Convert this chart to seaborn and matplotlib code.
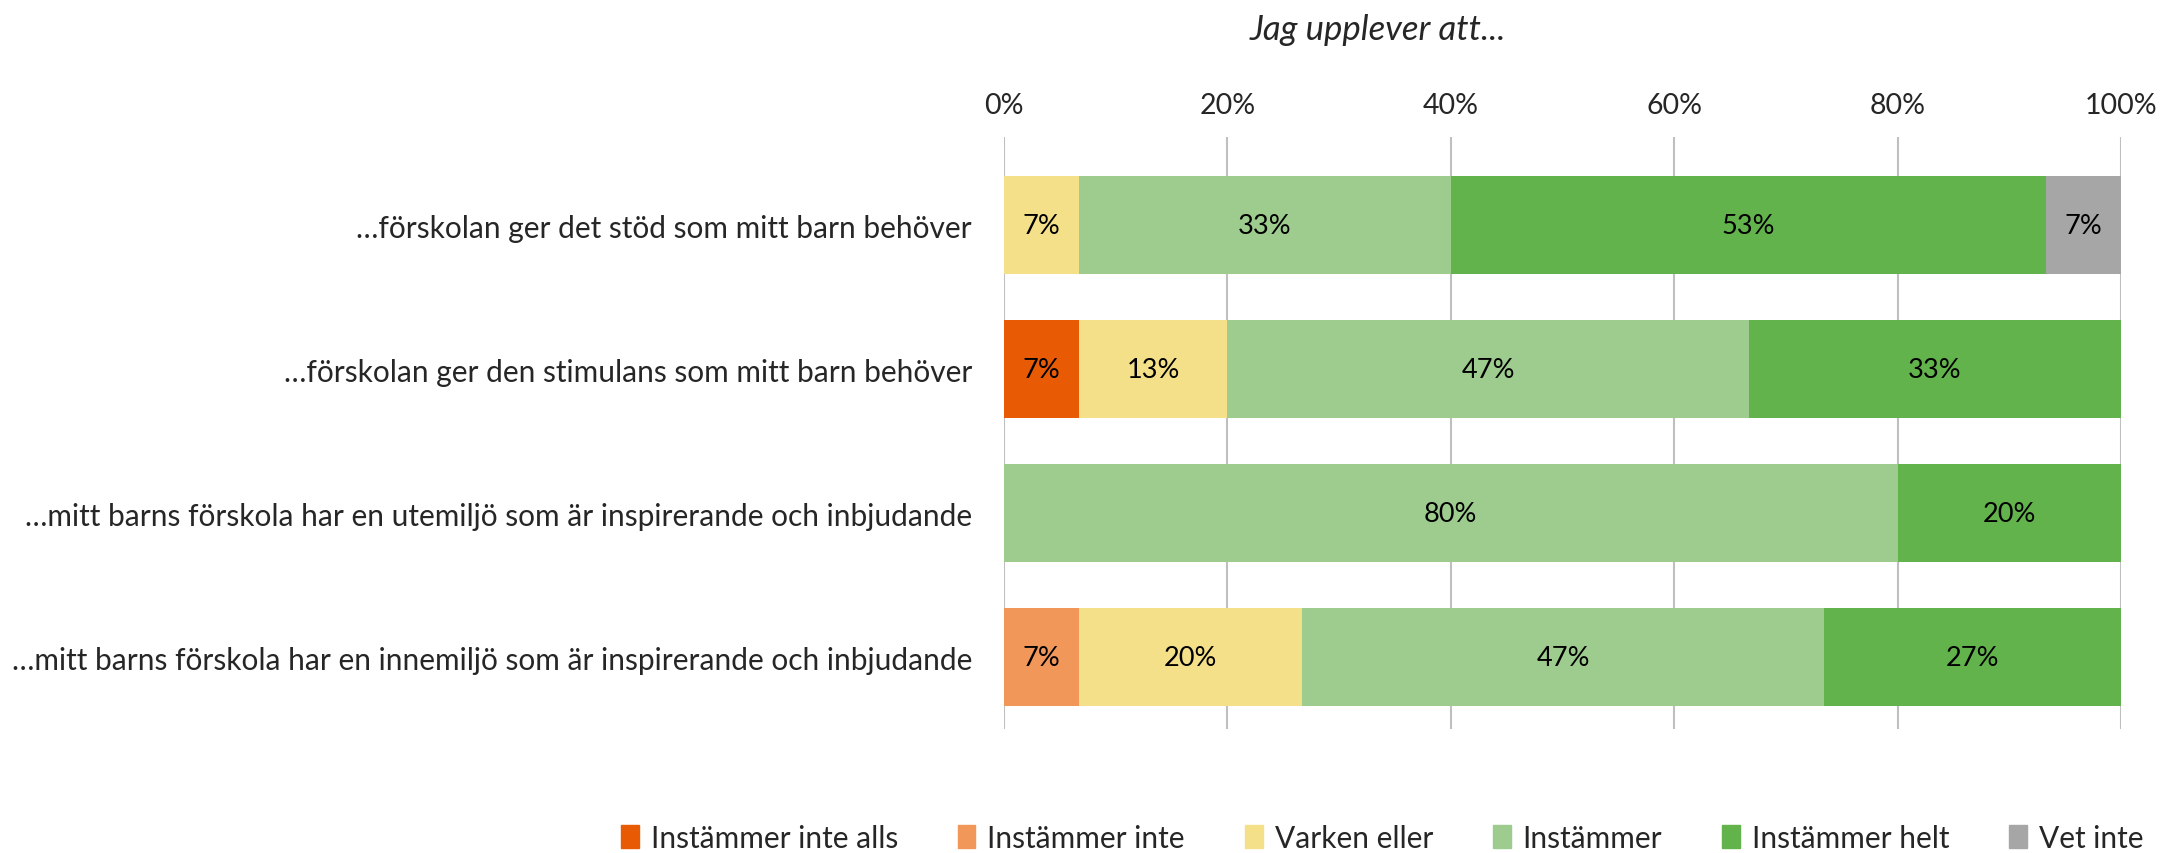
import matplotlib
matplotlib.use("Agg")
import matplotlib.pyplot as plt
import seaborn as sns
import numpy as np
import pandas as pd

statements = [
    "…förskolan ger det stöd som mitt barn behöver",
    "…förskolan ger den stimulans som mitt barn behöver",
    "…mitt barns förskola har en utemiljö som är inspirerande och inbjudande",
    "…mitt barns förskola har en innemiljö som är inspirerande och inbjudande",
]
answers = ["Instämmer inte alls", "Instämmer inte", "Varken eller",
           "Instämmer", "Instämmer helt", "Vet inte"]

instammer_inte_alls = [0, 6.7, 0, 0]
instammer_inte = [0, 0, 0, 6.7]
varken_eller = [6.7, 13.3, 0, 20.0]
instammer = [33.3, 46.7, 80.0, 46.7]
instammer_helt = [53.3, 33.3, 20.0, 26.7]
vet_inte = [6.7, 0, 0, 0]

colors = ["#E85A04", "#F1975A", "#F5E08A", "#9ECB8E", "#63B34C", "#A6A6A6"]

sns.set_style("white")
plt.rcParams["font.family"] = ["Lato", "DejaVu Sans"]

df = pd.DataFrame(
    [instammer_inte_alls, instammer_inte, varken_eller, instammer, instammer_helt, vet_inte],
    index=answers, columns=statements,
).T
cum = df.cumsum(axis=1)

fig = plt.figure(figsize=(21.62, 8.54), dpi=100)
ax = fig.add_axes([0.4644, 0.145, 0.5166, 0.693])

# stacked bars: draw cumulative totals from the last layer down
for i in range(len(answers) - 1, -1, -1):
    sns.barplot(x=cum[answers[i]].values, y=statements, orient="h",
                color=colors[i], width=0.68, ax=ax, saturation=1,
                linewidth=0)

for i, ans in enumerate(answers):
    for j, st in enumerate(statements):
        v = df.loc[st, ans]
        if v > 0:
            ax.text(cum.loc[st, ans] - v / 2, j, f"{v:.0f}%", ha="center",
                    va="center", fontsize=19.5, color="black")

ax.set_xlim(0, 100)
ax.set_ylim(3.5, -0.61)
ax.set_xticks(np.arange(0, 101, 20))
ax.set_xticklabels([f"{t}%" for t in range(0, 101, 20)])
ax.xaxis.tick_top()
ax.tick_params(axis="x", length=0, pad=14, labelsize=20.5)
ax.tick_params(axis="y", length=0, pad=23, labelsize=21.5)
ax.grid(axis="x", color="#BFBFBF", linewidth=1.5)
ax.set_axisbelow(True)
ax.set_xlabel("")
ax.set_ylabel("")
for s in ax.spines.values():
    s.set_visible(False)

fig.text(1378 / 2162, 1 - 30 / 854, "Jag upplever att...", ha="center", va="center",
         fontsize=25, style="italic")

handles = [plt.Rectangle((0, 0), 1, 1, color=c) for c in colors]
fig.legend(handles, answers, loc="lower center", bbox_to_anchor=(1382 / 2162, -0.03),
           ncol=6, frameon=False, fontsize=21.5, handlelength=0.6, handleheight=0.8,
           handletextpad=0.4, columnspacing=2.0)

fig.savefig("out.png", dpi=100)
